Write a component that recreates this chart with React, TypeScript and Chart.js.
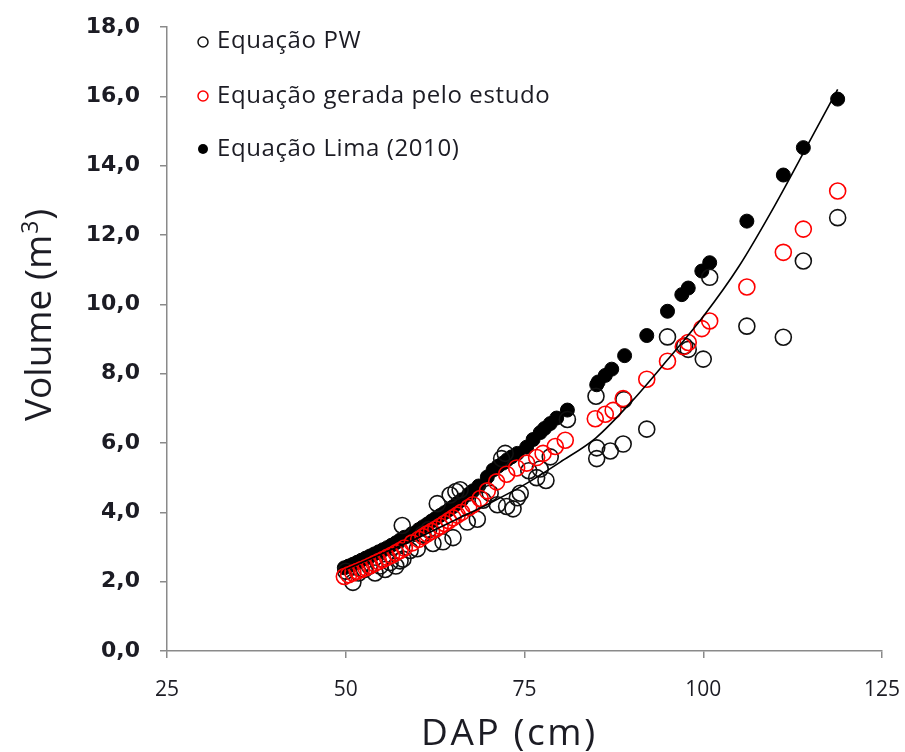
import React, { useEffect, useRef } from "react";
import { Chart, registerables } from "chart.js";

Chart.register(...registerables);

// ---------- data ----------
const xTicks = [25, 50, 75, 100, 125];
const yTicks = [0, 2, 4, 6, 8, 10, 12, 14, 16, 18];

const seriesNames = ["Equação PW", "Equação gerada pelo estudo", "Equação Lima (2010)"];
const xTitle = "DAP (cm)";
const yTitleMain = "Volume (m";
const yTitleSup = "3";
const yTitleEnd = ")";

// Equação PW (open black circles)
const dapPW = [
  50.0, 51.0, 51.8, 52.6, 53.3, 54.1, 54.8, 55.5, 56.2, 57.0,
  57.6, 58.0, 57.9, 59.0, 60.0, 60.8, 61.6, 62.2, 62.8, 63.6,
  64.6, 65.0, 65.4, 66.0, 67.0, 68.4, 69.2, 70.2, 71.2, 71.8,
  72.3, 72.5, 73.4, 74.0, 74.4, 75.6, 76.7, 77.2, 78.0, 78.6,
  81.0, 85.0, 85.1, 85.1, 87.0, 88.8, 88.9, 92.1, 95.0, 97.4,
  97.9, 100.0, 100.9, 106.1, 111.2, 114.0, 118.8,
];
const volPW = [
  2.30, 1.98, 2.25, 2.35, 2.45, 2.25, 2.45, 2.35, 2.55, 2.45,
  2.60, 2.65, 3.62, 2.90, 2.95, 3.37, 3.50, 3.10, 4.25, 3.15,
  4.50, 3.27, 4.60, 4.65, 3.72, 3.80, 4.35, 4.55, 4.22, 5.55,
  5.70, 4.17, 4.10, 4.42, 4.55, 5.20, 5.00, 5.25, 4.92, 5.60,
  6.68, 7.35, 5.86, 5.55, 5.77, 5.97, 7.25, 6.40, 9.06, 8.80,
  8.70, 8.42, 10.78, 9.37, 9.05, 11.25, 12.50,
];

// Equação gerada pelo estudo (open red circles)
const dapEstudo = [
  49.8, 50.4, 51.0, 51.6, 52.2, 52.8, 53.4, 54.0, 54.6, 55.2,
  55.8, 56.4, 57.0, 57.6, 58.2, 59.3, 60.2, 60.8, 61.4, 62.0,
  62.6, 63.2, 63.8, 64.4, 65.0, 65.6, 66.2, 67.2, 67.8, 68.8,
  69.8, 71.1, 72.5, 73.9, 75.3, 76.7, 77.6, 79.3, 80.7, 84.9,
  86.3, 87.4, 88.8, 92.1, 95.0, 97.2, 97.9, 99.8, 100.9, 106.1,
  111.2, 114.0, 118.8,
];
const volEstudo = [
  2.15, 2.20, 2.25, 2.30, 2.35, 2.40, 2.46, 2.52, 2.58, 2.64,
  2.70, 2.76, 2.83, 2.90, 2.97, 3.12, 3.22, 3.30, 3.38, 3.45,
  3.52, 3.60, 3.68, 3.76, 3.84, 3.92, 4.00, 4.14, 4.22, 4.40,
  4.62, 4.88, 5.10, 5.28, 5.42, 5.58, 5.70, 5.90, 6.08, 6.70,
  6.83, 6.94, 7.28, 7.84, 8.36, 8.78, 8.90, 9.30, 9.52, 10.50,
  11.50, 12.17, 13.27,
];

// Equação Lima (2010) (filled black circles)
const dapLima = [
  49.8, 50.4, 51.0, 51.6, 52.2, 52.8, 53.4, 54.0, 54.6, 55.2,
  55.8, 56.4, 57.0, 57.6, 58.2, 59.2, 60.2, 60.8, 61.4, 62.0,
  62.6, 63.2, 63.8, 64.4, 65.0, 65.6, 66.2, 67.2, 67.8, 68.6,
  69.8, 70.6, 71.3, 72.0, 72.6, 73.2, 74.0, 75.3, 76.2, 77.2,
  77.8, 78.6, 79.5, 81.0, 85.1, 85.3, 86.3, 87.2, 89.0, 92.1,
  95.0, 97.0, 97.9, 99.8, 100.9, 106.1, 111.2, 114.0, 118.8,
];
const volLima = [
  2.40, 2.45, 2.50, 2.56, 2.62, 2.68, 2.74, 2.80, 2.86, 2.92,
  2.98, 3.05, 3.12, 3.20, 3.28, 3.38, 3.50, 3.58, 3.66, 3.75,
  3.83, 3.91, 3.99, 4.07, 4.16, 4.26, 4.36, 4.52, 4.62, 4.76,
  5.02, 5.22, 5.33, 5.42, 5.52, 5.60, 5.70, 5.88, 6.10, 6.30,
  6.42, 6.56, 6.72, 6.95, 7.68, 7.76, 7.95, 8.13, 8.52, 9.10,
  9.80, 10.28, 10.47, 10.96, 11.20, 12.40, 13.73, 14.52, 15.92,
];

// trend curve
const curveDap = [50, 55, 60, 65, 70, 75, 80, 85, 90, 95, 100, 105, 110, 115, 118.8];
const curveVol = [2.35, 2.8, 3.25, 3.75, 4.25, 4.8, 5.45, 6.15, 7.2, 8.4, 9.65, 11.1, 12.85, 14.75, 16.2];

const toPoints = (xs: number[], ys: number[]) => xs.map((x, i) => ({ x, y: ys[i] }));

const TEXT = "#1c1c24";
const AXIS = "#8a8a8a";

const overlayPlugin = {
  id: "overlayText",
  afterDraw(chart: any) {
    const ctx: CanvasRenderingContext2D = chart.ctx;
    ctx.save();
    // legend
    const rows = [
      { cy: 42, base: 48, stroke: "#111111", fill: null as string | null },
      { cy: 96, base: 103, stroke: "#ff0000", fill: null as string | null },
      { cy: 149, base: 156, stroke: "#000000", fill: "#000000" },
    ];
    rows.forEach((r, i) => {
      ctx.beginPath();
      ctx.arc(203, r.cy, 5, 0, Math.PI * 2);
      if (r.fill) {
        ctx.fillStyle = r.fill;
        ctx.fill();
      } else {
        ctx.lineWidth = 1.5;
        ctx.strokeStyle = r.stroke;
        ctx.stroke();
      }
      ctx.fillStyle = TEXT;
      ctx.font = "24px 'Open Sans'";
      (ctx as any).letterSpacing = "0.6px";
      ctx.textAlign = "left";
      ctx.textBaseline = "alphabetic";
      ctx.fillText(seriesNames[i], 217, r.base);
    });

    // x title
    ctx.font = "37px 'Open Sans'";
    (ctx as any).letterSpacing = "2.6px";
    ctx.fillStyle = TEXT;
    ctx.textAlign = "left";
    ctx.fillText(xTitle, 421, 745);

    // y title (rotated)
    (ctx as any).letterSpacing = "0px";
    ctx.translate(51, 421);
    ctx.rotate(-Math.PI / 2);
    ctx.font = "37px 'Open Sans'";
    ctx.fillText(yTitleMain, 0, 0);
    let w = ctx.measureText(yTitleMain).width;
    ctx.font = "23px 'Open Sans'";
    ctx.fillText(yTitleSup, w + 1, -13);
    w += ctx.measureText(yTitleSup).width + 2;
    ctx.font = "37px 'Open Sans'";
    ctx.fillText(yTitleEnd, w, 0);
    ctx.restore();
  },
};

export default function App() {
  const ref = useRef<HTMLCanvasElement | null>(null);

  useEffect(() => {
    if (!ref.current) return;
    const chart = new Chart(ref.current, {
      type: "scatter",
      data: {
        datasets: [
          {
            label: "curve",
            data: toPoints(curveDap, curveVol),
            showLine: true,
            borderColor: "#000000",
            borderWidth: 1.6,
            pointRadius: 0,
            tension: 0.4,
            cubicInterpolationMode: "monotone",
            order: 0,
          } as any,
          {
            label: seriesNames[1],
            data: toPoints(dapEstudo, volEstudo),
            pointRadius: 8,
            borderWidth: 1.6,
            borderColor: "#ff0000",
            backgroundColor: "rgba(0,0,0,0)",
            order: 1,
          },
          {
            label: seriesNames[0],
            data: toPoints(dapPW, volPW),
            pointRadius: 8,
            borderWidth: 1.6,
            borderColor: "#111111",
            backgroundColor: "rgba(0,0,0,0)",
            order: 2,
          },
          {
            label: seriesNames[2],
            data: toPoints(dapLima, volLima),
            pointRadius: 7,
            borderWidth: 1,
            borderColor: "#000000",
            backgroundColor: "#000000",
            order: 3,
          },
        ],
      },
      options: {
        responsive: false,
        animation: false,
        devicePixelRatio: 1,
        layout: { padding: { top: 27, right: 23, bottom: 0, left: 0 } },
        plugins: {
          legend: { display: false },
          tooltip: { enabled: false },
        },
        scales: {
          x: {
            type: "linear",
            min: 25,
            max: 125,
            afterBuildTicks: (s: any) => {
              s.ticks = xTicks.map((v) => ({ value: v }));
            },
            afterFit: (s: any) => {
              s.height = 101;
              s.paddingLeft = 0;
              s.paddingRight = 0;
              s.paddingTop = 0;
              s.paddingBottom = 0;
            },
            ticks: {
              font: { family: "'Open Sans'", size: 21 },
              color: TEXT,
              padding: 19,
              maxRotation: 0,
            },
            grid: {
              drawOnChartArea: false,
              drawTicks: true,
              tickLength: 7,
              color: AXIS,
              lineWidth: 1.5,
            },
            border: { display: true, color: AXIS, width: 1.5 },
          },
          y: {
            type: "linear",
            min: 0,
            max: 18,
            afterBuildTicks: (s: any) => {
              s.ticks = yTicks.map((v) => ({ value: v }));
            },
            afterFit: (s: any) => {
              s.width = 167;
              s.paddingLeft = 0;
              s.paddingRight = 0;
              s.paddingTop = 0;
              s.paddingBottom = 0;
            },
            ticks: {
              font: { family: "'DejaVu Sans'", size: 22, weight: "bold" },
              color: TEXT,
              padding: 20,
              callback: (v: any) => Number(v).toFixed(1).replace(".", ","),
            },
            grid: {
              drawOnChartArea: false,
              drawTicks: true,
              tickLength: 7,
              color: AXIS,
              lineWidth: 1.5,
            },
            border: { display: true, color: AXIS, width: 1.5 },
          },
        },
      },
      plugins: [overlayPlugin],
    });
    return () => chart.destroy();
  }, []);

  return (
    <div style={{ position: "fixed", left: 0, top: 0, width: 905, height: 752, background: "#ffffff" }}>
      <canvas ref={ref} width={905} height={752} style={{ display: "block" }} />
    </div>
  );
}
